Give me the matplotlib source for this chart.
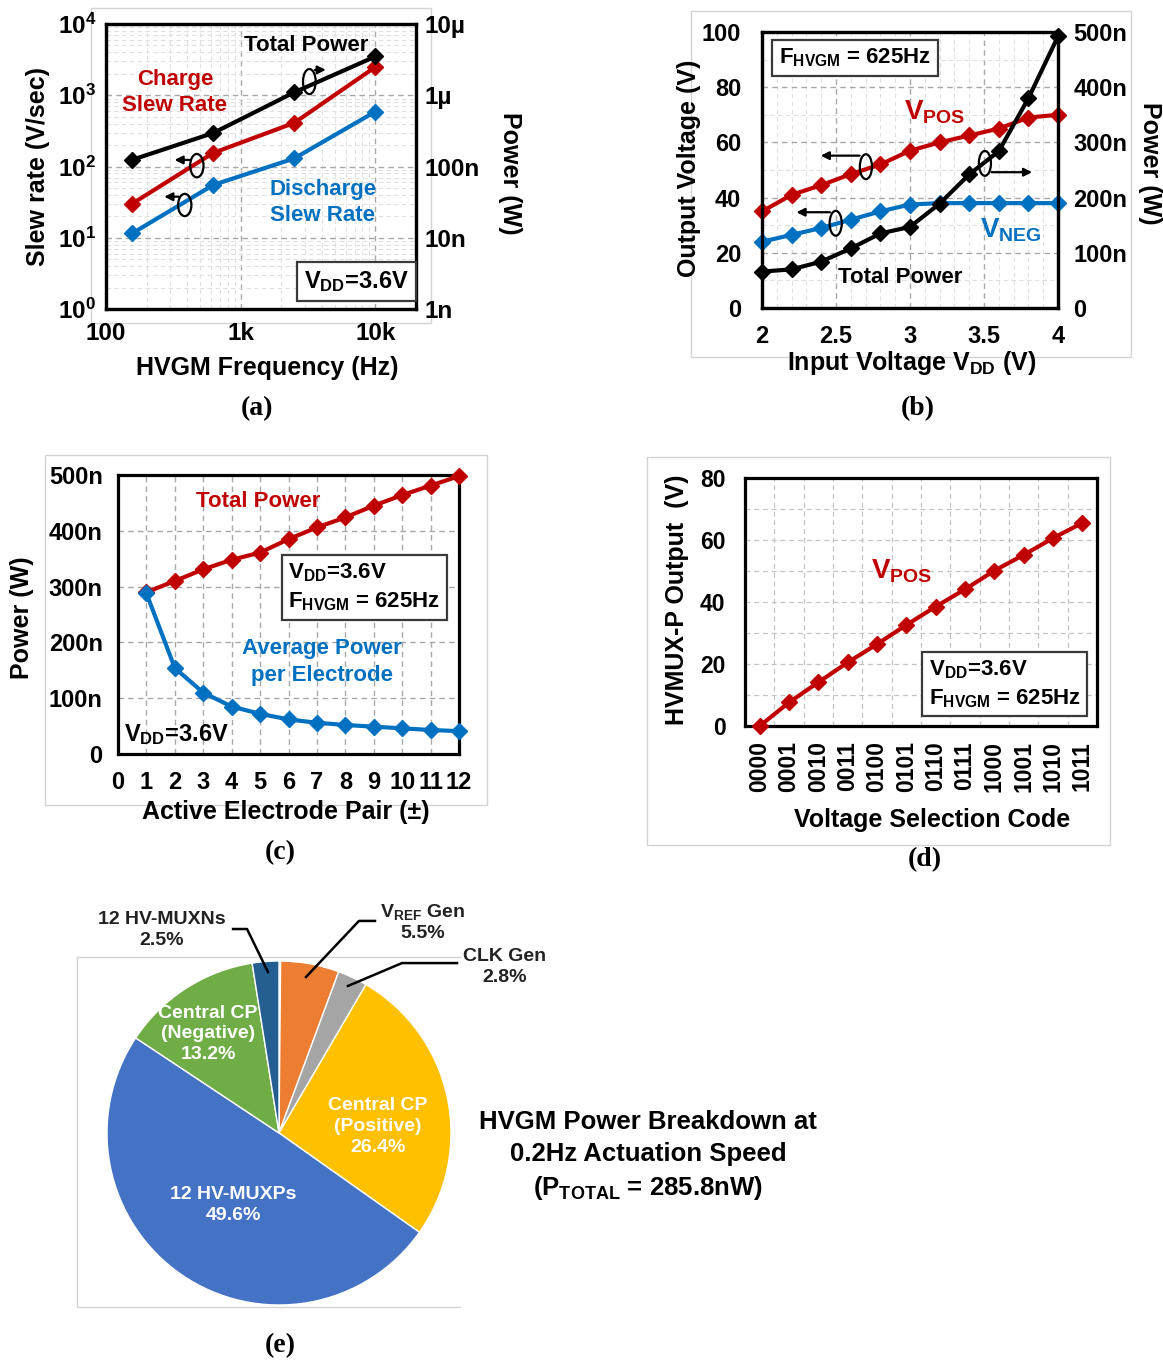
import matplotlib
matplotlib.use('Agg')
import matplotlib.pyplot as plt
from matplotlib.patches import Ellipse, Rectangle
from matplotlib.ticker import MultipleLocator, NullFormatter

plt.rcParams['font.family'] = ['Liberation Sans', 'DejaVu Sans']
plt.rcParams['font.weight'] = 'bold'
plt.rcParams['mathtext.fontset'] = 'custom'
plt.rcParams['mathtext.rm'] = 'Liberation Sans:bold'
plt.rcParams['mathtext.bf'] = 'Liberation Sans:bold'
plt.rcParams['mathtext.it'] = 'Liberation Sans:bold'
plt.rcParams['mathtext.default'] = 'rm'

RED = '#C00000'
BLUE = '#0070C0'
NARROW = ['Liberation Sans Narrow', 'Liberation Sans']

# (a) slew rate / power vs HVGM clock frequency
freq = [156.25, 625, 2500, 10000]
charge_sr = [30, 155, 410, 2500]
discharge_sr = [11.5, 55, 130, 590]
power_a = [124e-9, 295e-9, 1.1e-6, 3.5e-6]

# (b) output voltage / power vs VDD
vdd = [2.0, 2.2, 2.4, 2.6, 2.8, 3.0, 3.2, 3.4, 3.6, 3.8, 4.0]
vpos_b = [35, 41, 44.5, 48.5, 52, 57, 60, 62.5, 65, 69, 70]
vneg_b = [24, 26.5, 29, 32, 35, 37.5, 38, 38, 38, 38, 38]
power_b = [66e-9, 70e-9, 84e-9, 108e-9, 135e-9, 147e-9, 189e-9, 242e-9, 284e-9, 380e-9, 492e-9]

# (c) power vs number of active electrode pairs
pairs = [1, 2, 3, 4, 5, 6, 7, 8, 9, 10, 11, 12]
total_c = [290, 310, 331, 348, 361, 385, 406, 424, 445, 464, 481, 498]
avg_c = [288, 154, 110, 85, 72, 62, 56, 52, 49, 46, 43, 41]

# (d) HVMUX-P output vs selection code
codes = ['0000', '0001', '0010', '0011', '0100', '0101',
         '0110', '0111', '1000', '1001', '1010', '1011']
vpos_d = [0, 7.6, 14.1, 20.5, 26.4, 32.6, 38.5, 44.1, 50.1, 55.2, 60.6, 65.5]

# (e) power breakdown (clockwise from 12 o'clock)
pie_vals = [0.15, 5.5, 2.8, 26.4, 49.6, 13.2, 2.5]
pie_cols = ['#E8302A', '#ED7D31', '#A5A5A5', '#FFC000', '#4472C4', '#70AD47', '#255E91']

W, H = 1163, 1366
fig = plt.figure(figsize=(W / 100, H / 100), dpi=100)


def box(x0, y0, x1, y1):
    return [x0 / W, 1 - y1 / H, (x1 - x0) / W, (y1 - y0) / H]


def ftext(x, y, s, **kw):
    kw.setdefault('ha', 'center')
    kw.setdefault('va', 'center')
    fig.text(x / W, 1 - y / H, s, **kw)


def frame(x0, y0, x1, y1):
    fig.add_artist(Rectangle((x0 / W, 1 - y1 / H), (x1 - x0) / W, (y1 - y0) / H,
                             transform=fig.transFigure, fill=False,
                             ec='#d4d4d4', lw=1, zorder=0))


def style(ax, size):
    for sp in ax.spines.values():
        sp.set_linewidth(2.3)
    ax.tick_params(which='both', length=0, labelsize=size)


def grid(ax, major='#a8a8a8', minor='#e0e0e0'):
    ax.grid(which='major', ls=(0, (4, 3)), color=major, lw=1)
    ax.grid(which='minor', ls=(0, (4, 3)), color=minor, lw=0.8)
    ax.set_axisbelow(True)


def ring(ax, cx, cy, w, h):
    ax.add_patch(Ellipse((cx, cy), w, h, transform=ax.transAxes, fill=False,
                         ec='black', lw=1.6, clip_on=False, zorder=6))


def arrow(ax, x0, x1, y):
    ax.annotate('', xy=(x1, y), xytext=(x0, y), xycoords='axes fraction',
                arrowprops=dict(arrowstyle='-|>', color='black', lw=1.6,
                                mutation_scale=12), zorder=6)


def boxed(ax, x, y, s, size, ha='center'):
    ax.text(x, y, s, transform=ax.transAxes, fontsize=size, ha=ha, va='center',
            linespacing=1.35, zorder=7,
            bbox=dict(boxstyle='square,pad=0.3', fc='white', ec='#3a3a3a', lw=1.6))


line_kw = dict(lw=3, marker='D', ms=8, clip_on=False, zorder=5)

# ---------------- (a) ----------------
frame(91, 8, 431, 323)
ax = fig.add_axes(box(106, 24, 416, 309))
ax.set_xscale('log')
ax.set_yscale('log')
ax.set_xlim(100, 20000)
ax.set_ylim(1, 1e4)
ax.plot(freq, charge_sr, color=RED, **line_kw)
ax.plot(freq, discharge_sr, color=BLUE, **line_kw)
ax.set_xticks([100, 1000, 10000], ['100', '1k', '10k'])
ax.set_yticks([1, 10, 100, 1000, 10000],
              [r'$10^{0}$', r'$10^{1}$', r'$10^{2}$', r'$10^{3}$', r'$10^{4}$'])
ax.xaxis.set_minor_formatter(NullFormatter())
ax.yaxis.set_minor_formatter(NullFormatter())
grid(ax)
style(ax, 17.5)
ax.tick_params(axis='x', pad=9)
ax.tick_params(axis='y', pad=7)
ax2 = ax.twinx()
ax2.set_yscale('log')
ax2.set_ylim(1e-9, 1e-5)
ax2.plot(freq, power_a, color='black', **line_kw)
ax2.set_yticks([1e-9, 1e-8, 1e-7, 1e-6, 1e-5], ['1n', '10n', '100n', '1µ', '10µ'])
ax2.yaxis.set_minor_formatter(NullFormatter())
style(ax2, 17.5)
ax2.tick_params(axis='y', pad=6)

ax2.text(0.645, 0.926, 'Total Power', transform=ax2.transAxes, ha='center', va='center',
         fontsize=16, family=NARROW)
ax2.text(0.222, 0.76, 'Charge\nSlew Rate', transform=ax2.transAxes, ha='center', va='center',
         fontsize=16, family=NARROW, color=RED, linespacing=1.35)
ax2.text(0.70, 0.374, 'Discharge\nSlew Rate', transform=ax2.transAxes, ha='center',
         va='center', fontsize=16, family=NARROW, color=BLUE, linespacing=1.35)
boxed(ax2, 0.808, 0.096, r'V$_{\mathrm{DD}}$=3.6V', 17)
ring(ax2, 0.293, 0.503, 0.043, 0.082)
arrow(ax2, 0.277, 0.212, 0.523)
ring(ax2, 0.254, 0.365, 0.043, 0.078)
arrow(ax2, 0.243, 0.179, 0.394)
ring(ax2, 0.656, 0.798, 0.041, 0.088)
arrow(ax2, 0.665, 0.718, 0.839)

ftext(38, 167, 'Slew rate (V/sec)', rotation=90, fontsize=18)
ftext(510, 173, 'Power (W)', rotation=270, fontsize=18)
ftext(267, 368, 'HVGM Frequency (Hz)', fontsize=18)
ftext(257, 409, '(a)', fontsize=20, family='Liberation Serif')

# ---------------- (b) ----------------
frame(691, 11, 1131, 357)
ax = fig.add_axes(box(762, 32, 1058, 308))
ax.set_xlim(2, 4)
ax.set_ylim(0, 100)
ax.plot(vdd, vpos_b, color=RED, **line_kw)
ax.plot(vdd, vneg_b, color=BLUE, **line_kw)
ax.set_xticks([2, 2.5, 3, 3.5, 4], ['2', '2.5', '3', '3.5', '4'])
ax.set_yticks([0, 20, 40, 60, 80, 100])
ax.xaxis.set_minor_locator(MultipleLocator(0.1))
ax.yaxis.set_minor_locator(MultipleLocator(10))
grid(ax)
style(ax, 17)
ax.tick_params(axis='x', pad=12)
ax.tick_params(axis='y', pad=15)
ax2 = ax.twinx()
ax2.set_ylim(0, 500e-9)
ax2.plot(vdd, power_b, color='black', **line_kw)
ax2.set_yticks([0, 100e-9, 200e-9, 300e-9, 400e-9, 500e-9],
               ['0', '100n', '200n', '300n', '400n', '500n'])
style(ax2, 17)
ax2.tick_params(axis='y', pad=11)

boxed(ax2, 0.314, 0.907, r'F$_{\mathrm{HVGM}}$ = 625Hz', 16)
ax2.text(0.584, 0.711, r'V$_{\mathrm{POS}}$', transform=ax2.transAxes, ha='center',
         va='center', fontsize=20, family=NARROW, color=RED)
ax2.text(0.841, 0.283, r'V$_{\mathrm{NEG}}$', transform=ax2.transAxes, ha='center',
         va='center', fontsize=20, family=NARROW, color=BLUE)
ax2.text(0.468, 0.111, 'Total Power', transform=ax2.transAxes, ha='center', va='center',
         fontsize=16, family=NARROW)
ring(ax2, 0.351, 0.512, 0.041, 0.09)
arrow(ax2, 0.339, 0.189, 0.552)
ring(ax2, 0.249, 0.307, 0.041, 0.09)
arrow(ax2, 0.239, 0.107, 0.347)
ring(ax2, 0.753, 0.524, 0.041, 0.09)
arrow(ax2, 0.766, 0.922, 0.492)

ftext(689, 168, 'Output Voltage (V)', rotation=90, fontsize=18)
ftext(1150, 163, 'Power (W)', rotation=270, fontsize=18)
ftext(912, 363, r'Input Voltage V$_{\mathrm{DD}}$ (V)', fontsize=18)
ftext(918, 409, '(b)', fontsize=20, family='Liberation Serif')

# ---------------- (c) ----------------
frame(45, 455, 487, 805)
ax = fig.add_axes(box(118, 475, 459, 754))
ax.set_xlim(0, 12)
ax.set_ylim(0, 500)
ax.plot(pairs, total_c, color=RED, **line_kw)
ax.plot(pairs, avg_c, color=BLUE, **line_kw)
ax.set_xticks(range(13))
ax.set_yticks([0, 100, 200, 300, 400, 500], ['0', '100n', '200n', '300n', '400n', '500n'])
ax.grid(ls=(0, (4, 3)), color='#a8a8a8', lw=1)
ax.set_axisbelow(True)
style(ax, 17)
ax.tick_params(axis='x', pad=12)
ax.tick_params(axis='y', pad=11)
ax.text(0.411, 0.904, 'Total Power', transform=ax.transAxes, ha='center', va='center',
        fontsize=16, family=NARROW, color=RED)
boxed(ax, 0.50, 0.597, 'V$_{\\mathrm{DD}}$=3.6V\nF$_{\\mathrm{HVGM}}$ = 625Hz', 16, ha='left')
ax.text(0.597, 0.33, 'Average Power\nper Electrode', transform=ax.transAxes, ha='center',
        va='center', fontsize=16, family=NARROW, color=BLUE, linespacing=1.4)
ax.text(0.172, 0.068, r'V$_{\mathrm{DD}}$=3.6V', transform=ax.transAxes, ha='center',
        va='center', fontsize=17)

ftext(22, 618, 'Power (W)', rotation=90, fontsize=18)
ftext(286, 812, 'Active Electrode Pair (±)', fontsize=18)
ftext(280, 853, '(c)', fontsize=20, family='Liberation Serif')

# ---------------- (d) ----------------
frame(647, 457, 1110, 845)
ax = fig.add_axes(box(745, 478, 1097, 726))
ax.set_xlim(-0.5, len(codes) - 0.5)
ax.set_ylim(0, 80)
ax.plot(range(len(codes)), vpos_d, color=RED, **line_kw)
ax.set_xticks(range(len(codes)), codes, rotation=90)
ax.set_yticks([0, 20, 40, 60, 80])
ax.xaxis.set_minor_locator(MultipleLocator(1, offset=0.5))
ax.yaxis.set_minor_locator(MultipleLocator(10))
ax.grid(which='minor', ls=(0, (4, 3)), color='#c4c4c4', lw=0.9)
ax.grid(which='major', axis='y', ls=(0, (4, 3)), color='#c4c4c4', lw=0.9)
ax.set_axisbelow(True)
style(ax, 16.5)
ax.tick_params(axis='x', pad=11)
ax.tick_params(axis='y', pad=14)
ax.text(0.446, 0.622, r'V$_{\mathrm{POS}}$', transform=ax.transAxes, ha='center',
        va='center', fontsize=20, family=NARROW, color=RED)
boxed(ax, 0.522, 0.169, 'V$_{\\mathrm{DD}}$=3.6V\nF$_{\\mathrm{HVGM}}$ = 625Hz', 16, ha='left')

ftext(677, 600, 'HVMUX-P Output  (V)', rotation=90, fontsize=18)
ftext(932, 820, 'Voltage Selection Code', fontsize=18)
ftext(925, 860, '(d)', fontsize=20, family='Liberation Serif')

# ---------------- (e) ----------------
fig.add_artist(plt.Line2D([77 / W, 77 / W, 460 / W], [1 - 957 / H, 1 - 1307 / H, 1 - 1307 / H],
                          transform=fig.transFigure, color='#d4d4d4', lw=1, zorder=0))
fig.add_artist(plt.Line2D([77 / W, 460 / W], [1 - 957 / H, 1 - 957 / H],
                          transform=fig.transFigure, color='#d4d4d4', lw=1, zorder=0))
ax = fig.add_axes(box(107, 961, 451, 1305))
ax.pie(pie_vals, colors=pie_cols, startangle=90, counterclock=False,
       wedgeprops=dict(edgecolor='white', linewidth=1))
ax.set_xlim(-1, 1)
ax.set_ylim(-1, 1)

pie_in = dict(ha='center', va='center', color='white', fontsize=14, linespacing=1.3)
ax.text(0.576, 0.04, 'Central CP\n(Positive)\n26.4%', **pie_in)
ax.text(-0.267, -0.419, '12 HV-MUXPs\n49.6%', **pie_in)
ax.text(-0.413, 0.576, 'Central CP\n(Negative)\n13.2%', **pie_in)
pie_out = dict(ha='center', va='center', color='#222222', fontsize=14, linespacing=1.3)
ax.text(-0.68, 1.18, '12 HV-MUXNs\n2.5%', **pie_out)
ax.text(0.837, 1.227, 'V$_{\\mathrm{REF}}$ Gen\n5.5%', **pie_out)
ax.text(1.314, 0.965, 'CLK Gen\n2.8%', **pie_out)
lead = dict(color='black', lw=1.8, clip_on=False)
ax.plot([-0.267, -0.186, -0.064], [1.186, 1.186, 0.936], **lead)
ax.plot([0.558, 0.465, 0.157], [1.233, 1.233, 0.907], **lead)
ax.plot([1.035, 0.715, 0.401], [0.988, 0.988, 0.855], **lead)

ftext(648, 1156, 'HVGM Power Breakdown at\n0.2Hz Actuation Speed\n(P$_{\\mathrm{TOTAL}}$ = 285.8nW)',
      fontsize=18.5, linespacing=1.4)
ftext(280, 1346, '(e)', fontsize=20, family='Liberation Serif')

fig.savefig('out.png', dpi=100)
